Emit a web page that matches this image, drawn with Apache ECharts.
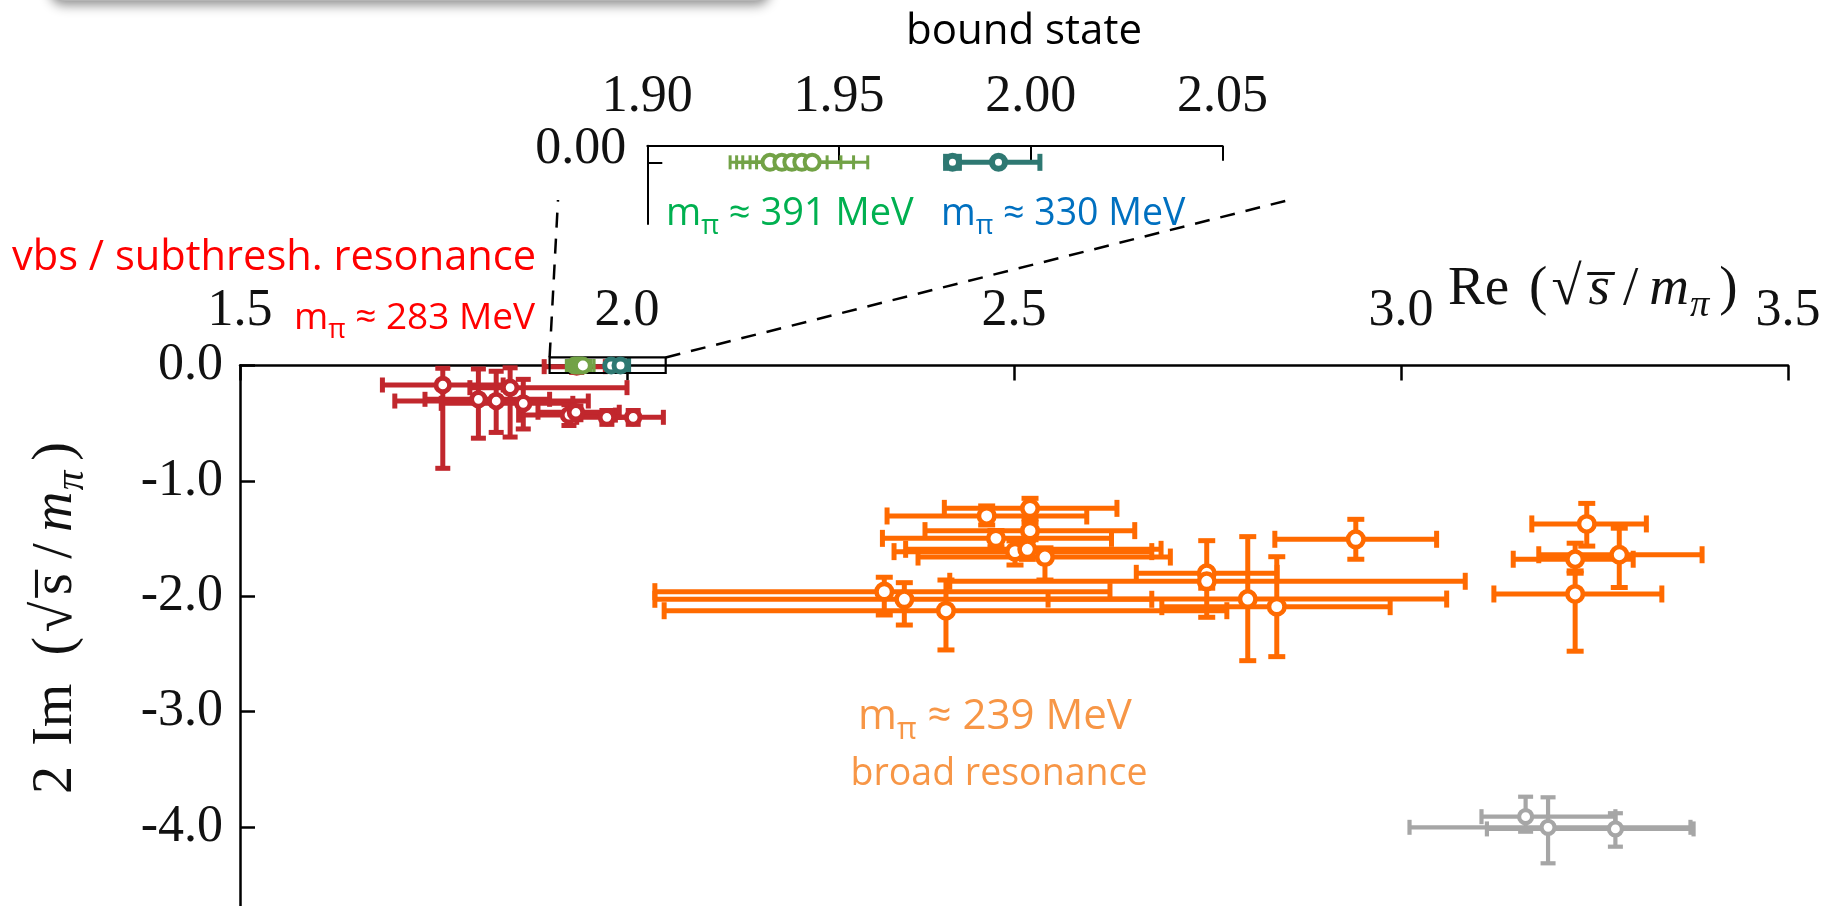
<!DOCTYPE html>
<html>
<head>
<meta charset="utf-8">
<script src="https://cdn.jsdelivr.net/npm/echarts@6/dist/echarts.min.js"></script>
<style>
  html, body { margin: 0; padding: 0; background: #ffffff; }
  #chart { width: 1837px; height: 906px; }
</style>
</head>
<body>
<div id="chart"></div>
<script>
// Pole positions in the complex sqrt(s)/m_pi plane.
// Each row: [Re, 2 Im, Re low, Re high, 2 Im low, 2 Im high]

// m_pi ~ 283 MeV: virtual bound state / subthreshold resonance
const red283 = [
  [1.762, -0.169, 1.684, 1.840, -0.891, -0.024],
  [1.808, -0.293, 1.739, 1.900, -0.630, -0.030],
  [1.831, -0.308, 1.700, 1.950, -0.580, -0.050],
  [1.849, -0.192, 1.797, 2.000, -0.620, -0.020],
  [1.866, -0.328, 1.760, 1.930, -0.550, -0.120],
  [1.925, -0.430, 1.860, 1.985, -0.520, -0.340],
  [1.934, -0.405, 1.885, 1.990, -0.470, -0.350],
  [1.974, -0.449, 1.935, 2.010, -0.510, -0.390],
  [2.008, -0.449, 1.975, 2.047, -0.510, -0.390],
  [1.935, -0.010, 1.893, 1.972, -0.060, 0.040]
];

// m_pi ~ 239 MeV: broad resonance
const orange239 = [
  [2.4647, -1.304, 2.336, 2.594, -1.382, -1.217],
  [2.5207, -1.238, 2.410, 2.633, -1.330, -1.151],
  [2.5207, -1.431, 2.385, 2.656, -1.510, -1.360],
  [2.4767, -1.498, 2.330, 2.626, -1.570, -1.430],
  [2.5013, -1.613, 2.345, 2.678, -1.729, -1.520],
  [2.5172, -1.593, 2.360, 2.690, -1.680, -1.520],
  [2.5400, -1.660, 2.376, 2.702, -1.859, -1.580],
  [2.3324, -1.960, 2.036, 2.624, -2.162, -1.835],
  [2.3583, -2.026, 2.036, 2.678, -2.249, -1.882],
  [2.4121, -2.125, 2.048, 2.775, -2.465, -1.859],
  [2.7490, -1.801, 2.658, 2.840, -2.182, -1.518],
  [2.7490, -1.870, 2.417, 3.083, -1.930, -1.810],
  [2.8020, -2.024, 2.544, 3.059, -2.558, -1.483],
  [2.8395, -2.090, 2.691, 2.986, -2.523, -1.657],
  [2.9416, -1.506, 2.837, 3.046, -1.679, -1.333],
  [3.2400, -1.373, 3.169, 3.317, -1.565, -1.195],
  [3.2250, -1.679, 3.145, 3.300, -1.800, -1.540],
  [3.2250, -1.980, 3.120, 3.337, -2.476, -1.780],
  [3.2820, -1.640, 3.178, 3.389, -1.924, -1.410]
];

// far poles (grey)
const grey = [
  [3.161, -3.910, 3.104, 3.277, -4.040, -3.737],
  [3.190, -4.002, 3.011, 3.374, -4.314, -3.742],
  [3.277, -4.016, 3.111, 3.378, -4.170, -3.880]
];

// m_pi ~ 391 MeV: bound state on the real axis
const green391 = [
  [1.9320, 0, 1.9216, 1.9424, 0, 0],
  [1.9351, 0, 1.9233, 1.9469, 0, 0],
  [1.9377, 0, 1.9249, 1.9505, 0, 0],
  [1.9403, 0, 1.9268, 1.9538, 0, 0],
  [1.9430, 0, 1.9285, 1.9575, 0, 0]
];

// m_pi ~ 330 MeV: bound state on the real axis
const teal330 = [
  [1.9796, 0, 1.9778, 1.9814, 0, 0],
  [1.9916, 0, 1.9800, 2.0024, 0, 0]
];

// tick values
const mainReTicks = [1.5, 2.0, 2.5, 3.0, 3.5];
const mainImTicks = [0, -1, -2, -3, -4];
const insetReTicks = [1.90, 1.95, 2.00, 2.05];
const insetImTicks = [0];

// region of the main plane that the inset magnifies: [Re min, Re max, Im min, Im max]
const zoomWindow = [1.90, 2.05, -0.065, 0.07];

const SERIF = '"Liberation Serif", "DejaVu Serif", serif';
const SANS = '"Open Sans", "Noto Sans", sans-serif';

const COLORS = {
  red: '#c1272d', orange: '#ff6a00', grey: '#a6a6a6', green: '#72a246', teal: '#2e7872'
};

// pixel positions where the magnifier guide lines end, just under the inset
const guideEnds = [[558, 200], [1289, 200]];

function errorBarRenderer(color, lineWidth, capLen) {
  return function (params, api) {
    const x = api.value(0), y = api.value(1);
    const c = api.coord([x, y]);
    const l = api.coord([api.value(2), y])[0];
    const r = api.coord([api.value(3), y])[0];
    const b = api.coord([x, api.value(4)])[1];
    const t = api.coord([x, api.value(5)])[1];
    const st = { stroke: color, lineWidth: lineWidth };
    const h = capLen / 2;
    const kids = [];
    const seg = (x1, y1, x2, y2) => kids.push({ type: 'line', shape: { x1, y1, x2, y2 }, style: st });
    if (Math.abs(r - l) > 0.5) {
      seg(l, c[1], r, c[1]);
      seg(l, c[1] - h, l, c[1] + h);
      seg(r, c[1] - h, r, c[1] + h);
    }
    if (Math.abs(b - t) > 0.5) {
      seg(c[0], t, c[0], b);
      seg(c[0] - h, t, c[0] + h, t);
      seg(c[0] - h, b, c[0] + h, b);
    }
    return { type: 'group', children: kids };
  };
}

function poleSeries(data, color, grid, opts) {
  return [
    {
      type: 'custom', xAxisIndex: grid, yAxisIndex: grid, z: 2, clip: false, silent: true,
      dimensions: ['re', 'im', 'reLo', 'reHi', 'imLo', 'imHi'],
      encode: { x: 0, y: 1 },
      renderItem: errorBarRenderer(color, opts.lw, opts.cap),
      data: data
    },
    {
      type: 'scatter', xAxisIndex: grid, yAxisIndex: grid, z: 4, clip: false, silent: true,
      symbol: 'circle', symbolSize: opts.size,
      itemStyle: { color: '#ffffff', borderColor: color, borderWidth: opts.bw, opacity: 1 },
      data: data.map(p => [p[0], p[1]])
    }
  ];
}

function mpiText(rest, size, color) {
  return {
    text: '{m|m}{p|π}{m| ≈ ' + rest + '}',
    rich: {
      m: { fontSize: size, fontFamily: SANS, fill: color, lineHeight: size, verticalAlign: 'top' },
      p: { fontSize: size * 0.72, fontFamily: SANS, fill: color, padding: [size * 0.47, 0, 0, 0], verticalAlign: 'top' }
    }
  };
}

// serif math-style label pieces; padding widens the spacing between symbols
function mathRich(size) {
  const base = { fontSize: size, fontFamily: SERIF, fill: '#111', verticalAlign: 'top', lineHeight: size };
  const it = Object.assign({}, base, { fontStyle: 'italic' });
  const pad = r => [0, size * r, 0, 0];
  return {
    n: base,
    w1: Object.assign({}, base, { padding: pad(0.36) }),
    w2: Object.assign({}, base, { padding: pad(0.5) }),
    op: Object.assign({}, base, { padding: pad(0.08) }),
    rad: Object.assign({}, base, { padding: pad(0.12) }),
    s: Object.assign({}, base, { padding: pad(0.12) }),
    si: Object.assign({}, it, { padding: pad(0.1) }),
    sl: Object.assign({}, base, { padding: [0, size * 0.2, 0, size * 0.14] }),
    i: it,
    p: { fontSize: size * 0.7, fontFamily: SERIF, fontStyle: 'italic', fill: '#111', verticalAlign: 'top',
         padding: [size * 0.45, size * 0.18, 0, size * 0.02] }
  };
}

const chart = echarts.init(document.getElementById('chart'));

const axisBase = {
  type: 'value',
  splitLine: { show: false },
  axisLine: { show: true, onZero: false, lineStyle: { color: '#000', width: 2.5 } },
  axisTick: { show: true, inside: true, length: 15, lineStyle: { color: '#000', width: 2.5 } }
};

const option = {
  backgroundColor: '#ffffff',
  animation: false,
  grid: [
    { left: 240, top: 365.5, right: 49, bottom: 0 },
    { left: 647.3, top: 145.7, width: 575.1, height: 78.3 }
  ],
  xAxis: [
    Object.assign({}, axisBase, {
      gridIndex: 0, position: 'top', min: 1.5, max: 3.5,
      axisTick: Object.assign({}, axisBase.axisTick, { customValues: mainReTicks }),
      axisLabel: { customValues: mainReTicks, formatter: v => v.toFixed(1), fontFamily: SERIF, fontSize: 52, color: '#111', margin: 28 }
    }),
    Object.assign({}, axisBase, {
      gridIndex: 1, position: 'top', min: 1.9, max: 2.05,
      axisLine: { show: true, onZero: false, lineStyle: { color: '#000', width: 2 } },
      axisTick: { show: true, inside: true, length: 15, lineStyle: { color: '#000', width: 2 }, customValues: insetReTicks },
      axisLabel: { customValues: insetReTicks, formatter: v => v.toFixed(2), fontFamily: SERIF, fontSize: 52, color: '#111', margin: 22 }
    })
  ],
  yAxis: [
    Object.assign({}, axisBase, {
      gridIndex: 0, min: -4.684, max: 0,
      axisTick: Object.assign({}, axisBase.axisTick, { customValues: mainImTicks }),
      axisLabel: { customValues: mainImTicks, formatter: v => (v === 0 ? '0.0' : v.toFixed(1)), fontFamily: SERIF, fontSize: 52, color: '#111', margin: 17 }
    }),
    Object.assign({}, axisBase, {
      gridIndex: 1, min: -0.0371, max: 0.01,
      axisLine: { show: true, onZero: false, lineStyle: { color: '#000', width: 2 } },
      axisTick: { show: true, inside: true, length: 15, lineStyle: { color: '#000', width: 2 }, customValues: insetImTicks },
      axisLabel: { customValues: insetImTicks, formatter: v => '{z|' + v.toFixed(2) + '}', margin: 21,
                   rich: { z: { fontFamily: SERIF, fontSize: 52, color: '#111', padding: [0, 0, 26, 0] } } }
    })
  ],
  series: [].concat(
    poleSeries(red283, COLORS.red, 0, { lw: 5, cap: 15, size: 13.5, bw: 4.8 }),
    poleSeries(orange239, COLORS.orange, 0, { lw: 5, cap: 17, size: 15.5, bw: 4.6 }),
    poleSeries(grey, COLORS.grey, 0, { lw: 4.2, cap: 15, size: 13, bw: 4.2 }),
    poleSeries(green391, COLORS.green, 0, { lw: 3, cap: 13, size: 14, bw: 4 }),
    poleSeries(teal330, COLORS.teal, 0, { lw: 4.5, cap: 15, size: 13, bw: 5 }),
    [{
      type: 'custom', xAxisIndex: 0, yAxisIndex: 0, z: 3, clip: false, silent: true,
      dimensions: ['reMin', 'reMax', 'imMin', 'imMax'],
      encode: { x: [0, 1], y: [2, 3] },
      renderItem: function (params, api) {
        const tl = api.coord([api.value(0), api.value(3)]);
        const br = api.coord([api.value(1), api.value(2)]);
        const dash = { stroke: '#000', lineWidth: 2.5, lineDash: [15, 11] };
        return {
          type: 'group',
          children: [
            { type: 'rect', shape: { x: tl[0], y: tl[1], width: br[0] - tl[0], height: br[1] - tl[1] },
              style: { fill: 'none', stroke: '#000', lineWidth: 2.2 } },
            { type: 'line', shape: { x1: tl[0], y1: tl[1], x2: guideEnds[0][0], y2: guideEnds[0][1] }, style: dash },
            { type: 'line', shape: { x1: br[0], y1: tl[1], x2: guideEnds[1][0], y2: guideEnds[1][1] }, style: dash }
          ]
        };
      },
      data: [zoomWindow]
    }],
    poleSeries(green391, COLORS.green, 1, { lw: 3, cap: 14, size: 15, bw: 4 }),
    poleSeries(teal330, COLORS.teal, 1, { lw: 5, cap: 17, size: 13, bw: 6 })
  ),
  graphic: [
    // lower edge of the caption box above the figure
    { type: 'rect', z: 1, silent: true,
      shape: { x: 50, y: -44, width: 720, height: 45, r: 14 },
      style: { fill: '#b4b4b4', shadowBlur: 12, shadowOffsetY: 4, shadowColor: 'rgba(0,0,0,0.45)' } },
    { type: 'text', z: 10, x: 1024, y: 32, silent: true,
      style: { text: 'bound state', fontFamily: SANS, fontSize: 42, fill: '#000', align: 'center', verticalAlign: 'middle' } },
    { type: 'text', z: 10, x: 12, y: 258, silent: true,
      style: { text: 'vbs / subthresh. resonance', fontFamily: SANS, fontSize: 41.6, fill: '#ff0000', align: 'left', verticalAlign: 'middle' } },
    { type: 'text', z: 10, x: 294, y: 300, silent: true,
      style: Object.assign(mpiText('283 MeV', 37, '#ff0000'), { align: 'left', verticalAlign: 'top' }) },
    { type: 'text', z: 10, x: 666, y: 195, silent: true,
      style: Object.assign(mpiText('391 MeV', 38, '#00b050'), { align: 'left', verticalAlign: 'top' }) },
    { type: 'text', z: 10, x: 941, y: 195, silent: true,
      style: Object.assign(mpiText('330 MeV', 37.5, '#0070c0'), { align: 'left', verticalAlign: 'top' }) },
    { type: 'text', z: 10, x: 995, y: 696, silent: true,
      style: Object.assign(mpiText('239 MeV', 42, '#f79646'), { align: 'center', verticalAlign: 'top' }) },
    { type: 'text', z: 10, x: 999, y: 774, silent: true,
      style: { text: 'broad resonance', fontFamily: SANS, fontSize: 37.5, fill: '#f79646', align: 'center', verticalAlign: 'middle' } },
    // axis titles
    { type: 'text', z: 10, x: 1448, y: 262, silent: true,
      style: { text: '{w1|Re}{op|(}{rad|√}{si|s\u0305}{sl|/}{i|m}{p|π}{n|)}', rich: mathRich(55), align: 'left', verticalAlign: 'top' } },
    { type: 'text', z: 10, x: 28, y: 618, rotation: Math.PI / 2, silent: true,
      style: { text: '{w1|2}{w2|Im}{op|(}{rad|√}{s|s\u0305}{sl|/}{i|m}{p|π}{n|)}', rich: mathRich(56), align: 'center', verticalAlign: 'top' } }
  ]
};

chart.setOption(option);
</script>
</body>
</html>
